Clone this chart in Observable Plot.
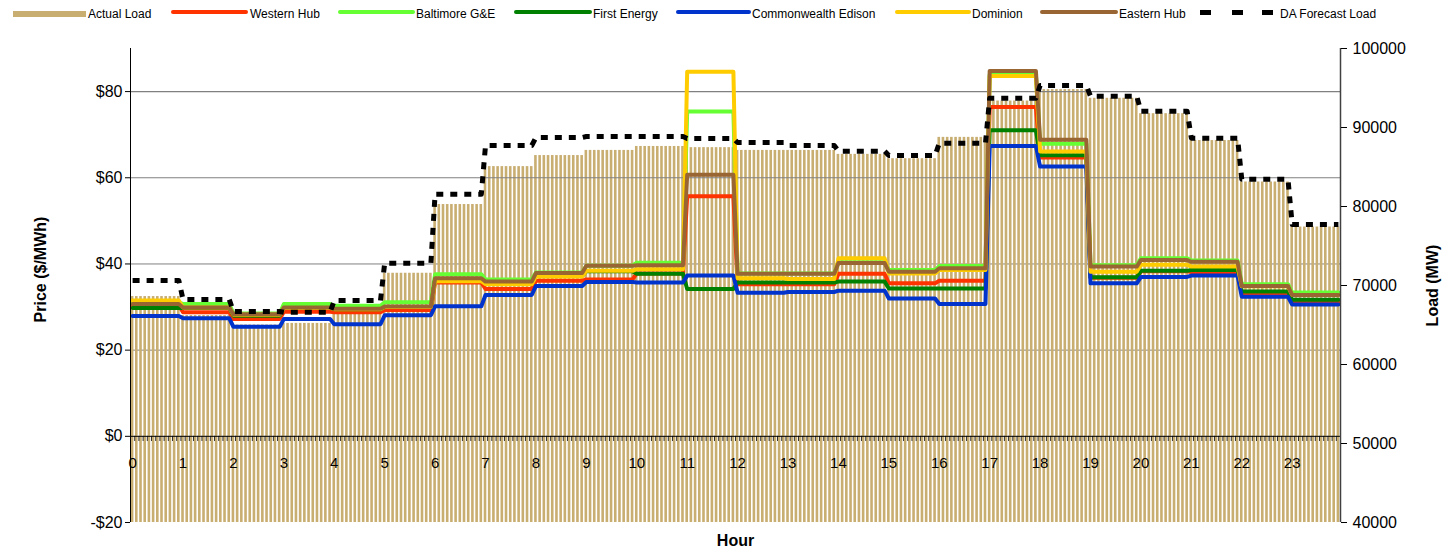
<!DOCTYPE html>
<html><head><meta charset="utf-8">
<script src="https://cdn.jsdelivr.net/npm/d3@7"></script>
<script src="https://cdn.jsdelivr.net/npm/@observablehq/plot@0.6"></script>
<style>
body{margin:0;background:#fff;font-family:"Liberation Sans",Arial,sans-serif;}
#legend{position:relative;height:28px;width:1446px;font-size:12px;color:#000;}
#legend .sw{position:absolute;}
#legend .tx{position:absolute;top:7px;line-height:14px;white-space:nowrap;}
#chart svg{display:block;}
</style></head><body>
<div id="legend"></div>
<div id="chart"></div>
<script>
// ---------- data ----------
const hours = d3.range(24);
const hourLabels = hours.map(String);
const intervalsPerHour = 12;
const priceTicks = [-20, 0, 20, 40, 60, 80];
const loadTicks = [40000, 50000, 60000, 70000, 80000, 90000, 100000];
const seriesNames = ["Western Hub", "Baltimore G&E", "First Energy", "Commonwealth Edison", "Dominion", "Eastern Hub"];
const seriesColors = ["#FF3300", "#66FF33", "#008000", "#0033CC", "#FFCC00", "#996633"];

const actualLoad = [68600, 66200, 65000, 65200, 66450, 71550, 80250, 85050, 86450, 87100, 87600, 87450, 87100, 87100, 86600, 86050, 88750, 93350, 94800, 93700, 91750, 88350, 83100, 77400];
const daForecastLoad = [70630, 68230, 66710, 66620, 68100, 72820, 81560, 87720, 88730, 88860, 88860, 88610, 88100, 87720, 87000, 86460, 88010, 93710, 95320, 93960, 92060, 88650, 83460, 77720];

const westernHub = [30.4, 28.8, 27.2, 28.9, 28.8, 29.3, 35.7, 34.2, 36.1, 36.4, 37.8, 55.7, 35.3, 35.3, 37.7, 35.5, 36.1, 76.4, 64.7, 36.8, 38.3, 38.1, 33.1, 31.2];
const baltimoreGE = [31.0, 30.7, 28.5, 30.7, 30.3, 31.1, 37.6, 36.4, 38.0, 39.6, 40.3, 75.4, 37.8, 37.8, 40.4, 38.6, 39.5, 84.0, 67.9, 39.7, 41.3, 40.8, 35.3, 33.4];
const firstEnergy = [29.8, 29.8, 28.0, 29.8, 29.5, 30.0, 36.5, 35.5, 37.2, 38.3, 37.7, 34.2, 35.7, 35.7, 35.9, 34.3, 34.3, 71.0, 65.2, 36.9, 38.4, 38.6, 33.6, 31.7];
const comEd = [27.9, 27.4, 25.4, 27.2, 26.0, 28.1, 30.2, 32.8, 34.9, 35.8, 35.7, 37.3, 33.3, 33.5, 33.8, 32.0, 30.7, 67.4, 62.6, 35.5, 37.0, 37.3, 32.4, 30.6];
const dominion = [31.5, 29.9, 28.2, 29.8, 29.5, 30.0, 36.0, 35.3, 37.1, 38.4, 38.8, 84.6, 36.7, 36.5, 41.3, 37.8, 38.6, 83.6, 66.1, 38.2, 39.8, 39.4, 34.8, 32.8];
const easternHub = [30.7, 29.9, 28.3, 29.9, 29.6, 30.1, 36.7, 35.9, 37.9, 39.6, 39.7, 60.7, 37.7, 37.7, 40.2, 38.2, 39.0, 84.8, 68.8, 39.4, 40.9, 40.5, 34.9, 32.8];
const priceSeries = [westernHub, baltimoreGE, firstEnergy, comEd, dominion, easternHub];

// ---------- dual axis mapping ----------
const priceDomain = [-20, 90];
const loadDomain = [40000, 100000];
const toP = L => priceDomain[0] + (L - loadDomain[0]) / (loadDomain[1] - loadDomain[0]) * (priceDomain[1] - priceDomain[0]);
const fromP = p => loadDomain[0] + (p - priceDomain[0]) / (priceDomain[1] - priceDomain[0]) * (loadDomain[1] - loadDomain[0]);

const nInt = hours.length * intervalsPerHour;
const intervals = d3.range(nInt).map(i => ({i, h: Math.floor(i / intervalsPerHour)}));
const barData = intervals.map(d => ({i: d.i, load: actualLoad[d.h]}));
const daData = intervals.map(d => ({i: d.i, load: daForecastLoad[d.h]}));
const lineData = priceSeries.map((s, k) => intervals.map(d => ({i: d.i, v: s[d.h], name: seriesNames[k]})));

const tan = "#C9AE72";

// ---------- legend ----------
const legendLayout = [
  {x0: 13, x1: 86, tx: 88},
  {x0: 171, x1: 248, tx: 250},
  {x0: 338, x1: 415, tx: 416},
  {x0: 514, x1: 592, tx: 593},
  {x0: 676, x1: 751, tx: 752},
  {x0: 895, x1: 971, tx: 972},
  {x0: 1040, x1: 1118, tx: 1119},
  {x0: 1200, x1: 1273, tx: 1280}
];
const legend = document.getElementById("legend");
const legendItems = [{name: "Actual Load", kind: "bar", color: tan}]
  .concat(seriesNames.map((n, k) => ({name: n, kind: "line", color: seriesColors[k]})))
  .concat([{name: "DA Forecast Load", kind: "dash", color: "#000"}]);
legendItems.forEach((it, k) => {
  const L = legendLayout[k];
  if (it.kind === "bar") {
    const s = document.createElement("div");
    s.className = "sw";
    Object.assign(s.style, {left: L.x0 + "px", width: (L.x1 - L.x0) + "px", top: "11px", height: "6px", background: it.color});
    legend.appendChild(s);
  } else if (it.kind === "line") {
    const s = document.createElement("div");
    s.className = "sw";
    Object.assign(s.style, {left: L.x0 + "px", width: (L.x1 - L.x0) + "px", top: "9.5px", height: "4px", background: it.color, borderRadius: "2px"});
    legend.appendChild(s);
  } else {
    [0, 32, 62].forEach(o => {
      const s = document.createElement("div");
      s.className = "sw";
      Object.assign(s.style, {left: (L.x0 + o) + "px", width: "11px", top: "9.5px", height: "5px", background: it.color});
      legend.appendChild(s);
    });
  }
  const t = document.createElement("div");
  t.className = "tx";
  t.style.left = L.tx + "px";
  t.textContent = it.name;
  legend.appendChild(t);
});

// ---------- chart ----------
const fmtPrice = d => d < 0 ? "-$" + (-d) : "$" + d;

const chart = Plot.plot({
  width: 1446,
  height: 520,
  marginTop: 20,
  marginBottom: 26,
  marginLeft: 130,
  marginRight: 106,
  style: {fontFamily: "'Liberation Sans', Arial, sans-serif", color: "#000", background: "#fff"},
  x: {type: "linear", domain: [0, nInt], axis: null},
  y: {domain: priceDomain, axis: null},
  marks: [
    Plot.ruleY([20, 40], {stroke: "#808080", strokeWidth: 1}),
    Plot.rectY(barData, {x1: "i", x2: d => d.i + 1, y1: priceDomain[0], y2: d => toP(d.load), fill: tan, insetLeft: 0.8, insetRight: 0.8}),
    Plot.ruleY([60, 80], {stroke: "#808080", strokeWidth: 1.2}),
    ...lineData.map((ld, k) => Plot.line(ld, {x: d => d.i + 0.5, y: "v", stroke: seriesColors[k], strokeWidth: 4, strokeLinejoin: "round", strokeLinecap: "round"})),
    Plot.line(daData, {x: d => d.i + 0.5, y: d => toP(d.load), stroke: "#000", strokeWidth: 5, strokeDasharray: "7,7", strokeLinecap: "butt"}),
    // x axis at $0
    Plot.ruleY([0], {stroke: "#000", strokeWidth: 1}),
    Plot.ruleX(d3.range(nInt + 1), {x: d => d, y1: 0, y2: -1.2, stroke: "#000", strokeWidth: 0.8}),
    Plot.text(hours, {x: h => h * intervalsPerHour + 0.5, y: 0, dy: 27, text: h => hourLabels[h], fontSize: 15}),
    // frame sides
    Plot.ruleX([0], {stroke: "#000", strokeWidth: 1}),
    Plot.ruleX([nInt], {stroke: "#404040", strokeWidth: 1.5}),
    // left axis
    Plot.axisY({anchor: "left", ticks: priceTicks, tickFormat: fmtPrice, tickSize: 5, tickPadding: 3, fontSize: 16, label: null}),
    // right axis (load)
    Plot.axisY({anchor: "right", ticks: loadTicks.map(toP), tickFormat: p => String(Math.round(fromP(p))), tickSize: 6, tickPadding: 6, fontSize: 16, label: null}),
    // axis titles
    Plot.text(["Price ($/MWh)"], {frameAnchor: "left", textAnchor: "middle", dx: -90, dy: -16, rotate: -90, fontSize: 16, fontWeight: "bold"}),
    Plot.text(["Load (MW)"], {frameAnchor: "right", textAnchor: "middle", dx: 92, rotate: -90, fontSize: 16, fontWeight: "bold"}),
    Plot.text(["Hour"], {frameAnchor: "bottom", dy: 23, fontSize: 16, fontWeight: "bold"})
  ]
});
document.getElementById("chart").appendChild(chart);
</script>
</body></html>
